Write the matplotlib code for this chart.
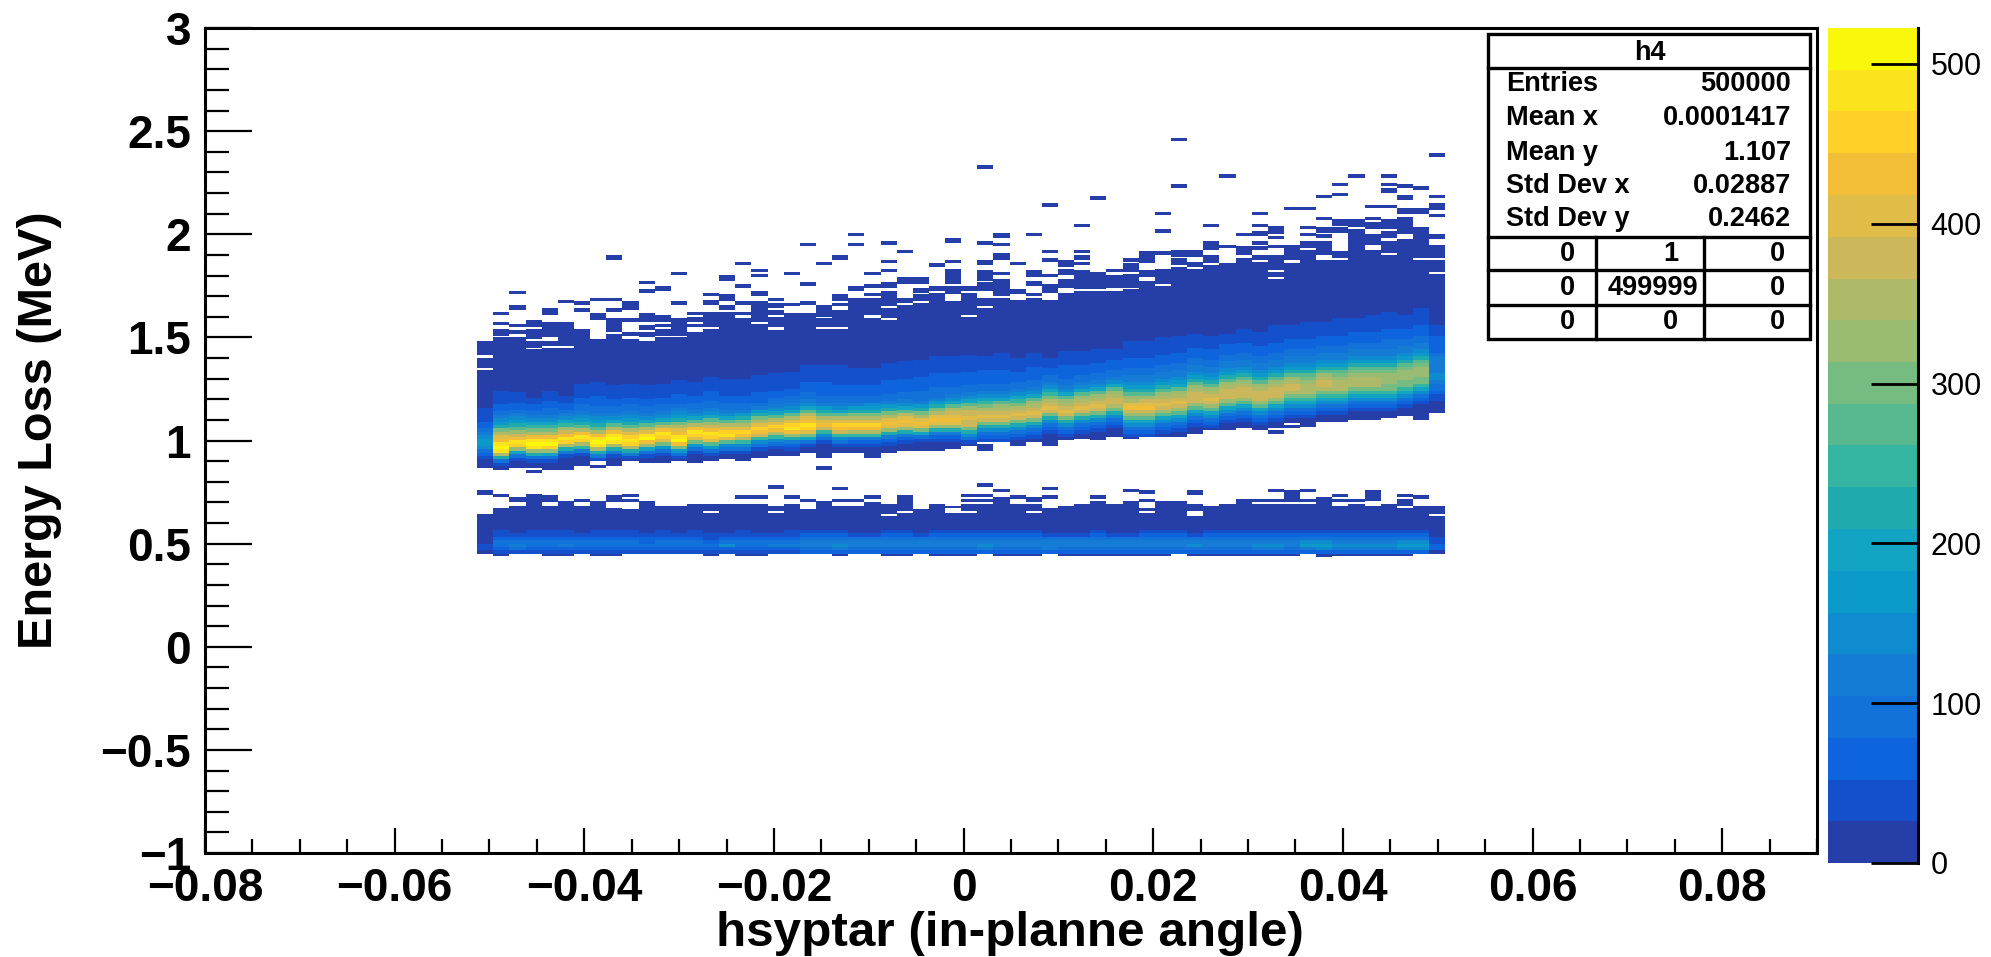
import numpy as np
import matplotlib
matplotlib.use("Agg")
import matplotlib.pyplot as plt
from matplotlib.colors import BoundaryNorm, ListedColormap
from matplotlib.lines import Line2D
from matplotlib.patches import Rectangle

plt.rcParams['font.family'] = ['Liberation Sans', 'DejaVu Sans']

# histogram bins: 60 columns in x, fine rows of 1/120 MeV counted from the top
n_cols = 60
n_rows = 250
top_energy = 2.4667
x_low = -0.0513
x_high = 0.0508

# occupied cells per column, as (first row, end row) runs
occupied = [
    [(118,126),(128,134),(135,192),(205,208),(219,242)],
    [(101,103),(107,109),(111,115),(116,193),(207,209),(215,243)],
    [(89,91),(97,100),(108,110),(112,114),(116,192),(209,212),(214,242)],
    [(106,110),(111,117),(118,122),(123,192),(193,195),(207,242)],
    [(99,103),(107,116),(118,121),(122,193),(208,212),(214,243)],
    [(94,96),(107,121),(122,193),(211,243)],
    [(95,97),(99,101),(111,191),(210,212),(214,242)],
    [(93,95),(102,106),(117,188),(190,192),(211,243)],
    [(68,71),(93,95),(99,101),(105,113),(114,191),(208,212),(215,243)],
    [(95,100),(105,107),(113,115),(117,188),(207,209),(210,212),(216,242)],
    [(83,85),(88,90),(102,107),(109,112),(113,116),(118,189),(211,242)],
    [(86,89),(103,107),(108,110),(111,115),(116,189),(214,242)],
    [(78,80),(95,97),(105,115),(116,188),(214,242)],
    [(101,103),(104,107),(108,110),(113,189),(213,242)],
    [(90,92),(94,97),(101,110),(111,188),(213,217),(218,243)],
    [(80,83),(91,95),(97,100),(101,187),(213,242)],
    [(72,74),(85,87),(95,97),(101,103),(105,188),(208,210),(213,243)],
    [(76,78),(79,81),(89,92),(95,107),(108,186),(208,210),(213,243)],
    [(93,95),(96,99),(100,103),(104,110),(112,185),(202,204),(214,217),(218,242)],
    [(78,80),(96,98),(102,185),(208,210),(213,242)],
    [(61,63),(84,86),(95,97),(102,183),(210,212),(216,242)],
    [(72,74),(97,104),(105,110),(111,186),(191,193),(211,242)],
    [(68,71),(91,95),(96,98),(100,110),(111,183),(203,205),(210,212),(214,243)],
    [(55,57),(61,63),(86,89),(93,183),(210,212),(214,242)],
    [(78,80),(85,87),(90,92),(93,103),(105,186),(208,210),(212,242)],
    [(60,62),(71,73),(76,78),(84,87),(89,98),(99,105),(106,183),(213,219),(220,243)],
    [(65,67),(81,85),(93,96),(97,182),(208,217),(218,243)],
    [(81,85),(87,90),(91,95),(96,182),(216,242)],
    [(73,75),(86,89),(90,182),(213,243)],
    [(58,61),(71,73),(76,85),(86,91),(95,181),(214,215),(218,243)],
    [(86,89),(90,103),(104,179),(207,209),(210,212),(213,217),(218,243)],
    [(16,18),(60,62),(71,74),(77,83),(84,89),(93,98),(99,177),(178,182),(201,203),(207,209),(210,212),(213,242)],
    [(55,58),(61,63),(67,71),(78,80),(82,92),(93,177),(204,206),(209,243)],
    [(72,74),(88,91),(94,179),(208,210),(213,243)],
    [(55,57),(77,81),(83,86),(90,92),(93,177),(209,212),(213,217),(218,243)],
    [(38,40),(65,67),(70,72),(79,81),(85,90),(94,179),(203,205),(208,210),(215,242)],
    [(71,75),(76,80),(82,87),(90,176),(214,243)],
    [(50,52),(65,67),(68,71),(72,74),(77,88),(89,175),(213,243)],
    [(34,36),(78,88),(89,176),(208,210),(211,243)],
    [(76,78),(80,87),(89,174),(213,243)],
    [(70,72),(73,78),(79,87),(88,175),(204,206),(211,243)],
    [(66,73),(77,81),(83,172),(205,207),(210,212),(215,217),(218,243)],
    [(43,45),(53,55),(66,68),(76,85),(86,174),(211,243)],
    [(0,2),(27,29),(65,69),(70,74),(75,170),(171,174),(211,242)],
    [(65,69),(72,75),(76,172),(205,208),(213,217),(220,243)],
    [(50,52),(60,65),(68,73),(74,170),(214,243)],
    [(21,23),(62,64),(73,170),(213,243)],
    [(55,57),(63,68),(70,169),(210,243)],
    [(43,45),(50,52),(54,57),(60,62),(63,65),(68,71),(72,170),(210,212),(213,243)],
    [(51,56),(57,59),(62,64),(68,77),(78,81),(82,169),(170,172),(204,206),(210,212),(213,243)],
    [(40,42),(62,71),(73,166),(167,169),(205,212),(213,243)],
    [(40,42),(51,53),(55,57),(60,64),(65,168),(204,206),(210,212),(213,242)],
    [(33,35),(46,48),(52,55),(56,58),(60,68),(71,165),(209,244)],
    [(26,28),(32,34),(47,51),(52,55),(66,70),(71,165),(207,209),(210,212),(214,243)],
    [(21,23),(47,52),(53,164),(210,212),(213,243)],
    [(39,41),(46,48),(49,53),(56,62),(65,164),(205,211),(214,243)],
    [(21,23),(26,28),(29,32),(39,41),(47,53),(54,58),(60,67),(68,163),(213,243)],
    [(27,29),(33,36),(41,44),(46,56),(59,162),(207,209),(210,214),(215,243)],
    [(28,30),(41,44),(52,70),(71,164),(208,210),(214,242)],
    [(9,11),(33,35),(38,42),(44,46),(56,59),(62,70),(71,78),(79,160),(214,219),(220,242)],
]

# colour band (0-9, a-j = 10-19) of the upper ridge, one character per two rows
core_start = [157, 147, 148, 151, 147, 150, 143, 142, 144, 143,
              144, 143, 141, 142, 139, 140, 140, 138, 137, 136,
              132, 132, 132, 134, 134, 131, 130, 129, 127, 127,
              126, 127, 125, 128, 125, 128, 124, 124, 123, 123,
              118, 118, 116, 115, 114, 115, 114, 111, 113, 109,
              109, 107, 107, 105, 105, 103, 101, 103, 99, 109]
core_levels = [
    "111122345665321", "11112234568bdfgijid831", "1112234568acegihc731",
    "112234579bdgijic831", "11122334579bdgijhc731", "112234579cegihd841",
    "111122334568adgihd941", "1111222334568adgijid841", "11112233457adgijid841",
    "111122334568adfhihd841", "11112233457adfijgc731", "11112233457adgihfb631",
    "111122234568bdfgijgb631", "11112233457adgihfb631", "111122233457acegihfa631",
    "111112233457adfhifa531", "111112233468bdfhgd9531", "111112223468bdfhge9531",
    "111112233457adfhgd9531", "111112233457adfhigc8421", "1111122233457adfgihfb731",
    "11111222233468adfge9531", "11111122233457adfhge9531", "1111122233468bdfhgd9421",
    "1111122233568bdfhgd9421", "11111222233468bdfgfc8421", "11111222233457adfgfc8421",
    "111112222333468bdfgfb731", "111112222333468bdfgfc8421", "11111222233457adefgfc8421",
    "11111222233457aceefeeb8531", "11112222334579bdefeb85321", "11111222233457acdefeb85321",
    "1111222334579bdefeb85321", "1111222233457acdefeb85321", "11122334579bdefeb85321",
    "1111222233457acdefeb85321", "111122233457acdefeb85321", "111122233457acdefeb85321",
    "11122233457acdeedb85321", "111112223344568acdfgeca75321", "111112223344568acefgeca75321",
    "111112223344568acdefeca75321", "111112223344567acdefeca75321", "11112223344568acdeeeca75321",
    "11112223344568acdefeca75321", "1112223344568acdeeeca75321", "11112223344568acdeeeca75321",
    "11112223344568acdeeeca75321", "111112223344568acdeeeca75321", "11112223344568acdeedb975321",
    "111112223344568abcdddb975321", "11112223344568acdeedb975321", "111112223344568abcdddb975321",
    "11112223344568abcdddb975321", "111112223344568abcdddb975321", "1111122233344568abcccbb975321",
    "11112223344568abcccbb975321", "111112223344568abcccbb975321", "1112222234444455433211",
]

# same coding for the lower band, every column starts at the same row
band_start = 228
band_levels = [
    "0000110", "1123321", "0123431", "1123321", "1123321", "1123421", "0123321", "1123321",
    "1123321", "1123321", "0122321", "1123321", "0123321", "1123321", "0112321", "0123521",
    "1123321", "0123321", "0123421", "1123421", "1234432", "1234432", "1234542", "0134432",
    "0134432", "1234432", "1234432", "0134432", "1234432", "1234432", "1234432", "1234542",
    "1234432", "1234432", "1234432", "0134442", "0134432", "0134432", "1234432", "0134432",
    "0134432", "1234432", "1234432", "1234432", "0134532", "1234432", "1234432", "1234432",
    "1234542", "1234542", "1234432", "1235642", "1235652", "1234542", "1234542", "1234542",
    "1234542", "1235652", "1235652", "0011220",
]

x_ticks = [-0.08, -0.06, -0.04, -0.02, 0, 0.02, 0.04, 0.06, 0.08]
x_tick_labels = ["\u22120.08", "\u22120.06", "\u22120.04", "\u22120.02", "0", "0.02", "0.04", "0.06", "0.08"]
y_ticks = [-1, -0.5, 0, 0.5, 1, 1.5, 2, 2.5, 3]
y_tick_labels = ["\u22121", "\u22120.5", "0", "0.5", "1", "1.5", "2", "2.5", "3"]
z_ticks = [0, 100, 200, 300, 400, 500]

stats_names = ["Entries", "Mean x", "Mean y", "Std Dev x", "Std Dev y"]
stats_values = ["500000", "0.0001417", "1.107", "0.02887", "0.2462"]
cell_values = [["0", "1", "0"], ["0", "499999", "0"], ["0", "0", "0"]]

palette = ["#263EA8", "#1450CC", "#0E64DC", "#1272DA", "#147CD4", "#0F8CD0", "#0C9ACA",
           "#12A4C2", "#1FABAE", "#34B5A2", "#58B990", "#76BC80", "#9ABB72", "#AEBA68",
           "#CCB85A", "#E0BC48", "#F2BE38", "#FFD027", "#FBE41E", "#FAF80A"]
z_max = 522.5

W, H = 1991, 957


def px_box(left, top, right, bottom):
    return [left / W, 1 - bottom / H, (right - left) / W, (bottom - top) / H]


def px(x, y):
    return x / W, 1 - y / H


def level_of(ch):
    return int(ch, 20)


levels = np.full((n_rows, n_cols), np.nan)
for c in range(n_cols):
    for first, end in occupied[c]:
        levels[first:end, c] = 0
    for i, ch in enumerate(core_levels[c]):
        levels[core_start[c] + 2 * i:core_start[c] + 2 * i + 2, c] = level_of(ch)
    for i, ch in enumerate(band_levels[c]):
        levels[band_start + 2 * i:band_start + 2 * i + 2, c] = level_of(ch)

bands = np.linspace(0, z_max, len(palette) + 1)
counts = (levels + 0.5) * z_max / len(palette)
cmap = ListedColormap(palette)
norm = BoundaryNorm(bands, cmap.N)

x_edges = np.linspace(x_low, x_high, n_cols + 1)
y_edges = top_energy - np.arange(n_rows + 1) / 120

fig = plt.figure(figsize=(W / 100, H / 100), dpi=100)
ax = fig.add_axes(px_box(205, 28, 1817, 853))
ax.pcolormesh(x_edges, y_edges, np.ma.masked_invalid(counts), cmap=cmap, norm=norm)
ax.set_xlim(-0.08, 0.09)
ax.set_ylim(-1, 3)

ax.set_xticks(x_ticks)
ax.set_xticklabels(x_tick_labels, fontsize=33, fontweight='bold')
ax.set_yticks(y_ticks)
ax.set_yticklabels(y_tick_labels, fontsize=33, fontweight='bold')
ax.set_xticks(np.arange(-0.08, 0.0901, 0.005), minor=True)
ax.set_yticks(np.arange(-1, 3.01, 0.1), minor=True)
ax.tick_params(axis='x', which='major', direction='in', length=18, width=1.6, pad=10)
ax.tick_params(axis='x', which='minor', direction='in', length=10, width=1.6)
ax.tick_params(axis='y', which='major', direction='in', length=34, width=1.6, pad=10)
ax.tick_params(axis='y', which='minor', direction='in', length=17, width=1.6)
for spine in ax.spines.values():
    spine.set_linewidth(2.2)

fig.text(*px(1010, 933), "hsyptar (in-planne angle)", fontsize=35.6, fontweight='bold',
         ha='center', va='center')
fig.text(*px(40, 430), "Energy Loss (MeV)", fontsize=35, fontweight='bold', rotation=90,
         ha='center', va='center')

# colour scale
cax = fig.add_axes(px_box(1828, 28, 1918, 863))
cax.pcolormesh([0, 1], bands, (bands[:-1] + 13)[:, None], cmap=cmap, norm=norm)
cax.set_xticks([])
cax.set_ylim(0, z_max)
cax.yaxis.tick_right()
cax.set_yticks(z_ticks)
cax.set_yticklabels([str(z) for z in z_ticks], fontsize=22)
cax.tick_params(axis='y', direction='in', length=34, width=2, pad=9)
for name, spine in cax.spines.items():
    spine.set_visible(name == 'right')
    spine.set_linewidth(2.2)

# statistics box
x0, y0 = px(1488, 339)
x1, y1 = px(1810, 34)
fig.add_artist(Rectangle((x0, y0), x1 - x0, y1 - y0, transform=fig.transFigure, facecolor='white',
                         edgecolor='black', linewidth=2.4, zorder=5))
for yy in [68, 237, 270, 305]:
    fig.add_artist(Line2D([x0, x1], [px(0, yy)[1]] * 2, color='black', linewidth=2.4, zorder=6))
for xx in [1596, 1704]:
    fig.add_artist(Line2D([px(xx, 0)[0]] * 2, [y0, px(0, 237)[1]], color='black', linewidth=2.4, zorder=6))

stat_font = dict(fontsize=19.5, fontweight='bold', va='center', zorder=7)
fig.text(*px(1650, 53), "h4", ha='center', **stat_font)
for name, value, yy in zip(stats_names, stats_values, [84, 118, 153, 186, 219]):
    fig.text(*px(1506, yy), name, ha='left', **stat_font)
    fig.text(*px(1791, yy), value, ha='right', **stat_font)
for row, yy in zip(cell_values, [254, 288, 322]):
    for value, xx in zip(row, [1575, 1678, 1785]):
        fig.text(*px(1698 if len(value) > 1 else xx, yy), value, ha='right', **stat_font)

fig.savefig("out.png", dpi=100)
